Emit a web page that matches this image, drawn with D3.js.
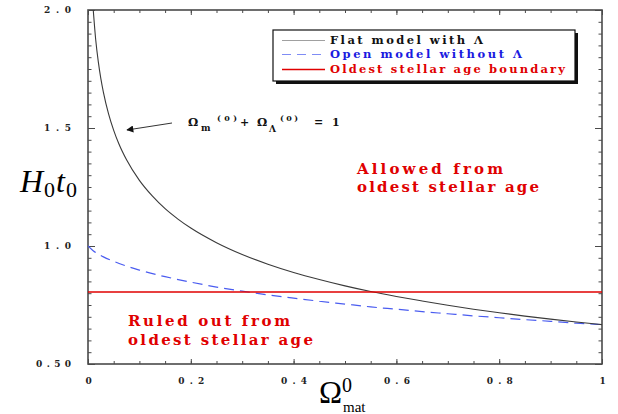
<!DOCTYPE html>
<html><head><meta charset="utf-8">
<script src="https://cdn.jsdelivr.net/npm/d3@7"></script>
<style>body{margin:0;background:#fff}svg{display:block}</style>
</head><body>
<svg id="c" width="618" height="414"></svg>
<script>
// ---- data ----
const flatOmega = [0.01,0.015,0.02,0.025,0.03,0.04,0.05,0.06,0.075,0.1,0.125,0.15,0.175,0.2,0.25,0.3,0.35,0.4,0.45,0.5,0.55,0.6,0.65,0.7,0.75,0.8,0.85,0.9,0.95,1.0];
const flatH0t0  = [2.006,1.874,1.781,1.709,1.651,1.560,1.490,1.433,1.365,1.278,1.212,1.158,1.114,1.076,1.014,0.964,0.923,0.888,0.858,0.831,0.807,0.786,0.767,0.749,0.732,0.717,0.703,0.690,0.678,0.667];
const openOmega = [0,0.01,0.02,0.03,0.05,0.075,0.1,0.15,0.2,0.25,0.3,0.35,0.4,0.45,0.5,0.55,0.6,0.65,0.7,0.75,0.8,0.85,0.9,0.95,1.0];
const openH0t0  = [1.000,0.980,0.966,0.954,0.935,0.915,0.898,0.870,0.847,0.826,0.809,0.793,0.779,0.766,0.754,0.742,0.732,0.722,0.713,0.704,0.696,0.688,0.681,0.673,0.667];
const stellarBoundary = 0.805;
const xDomain = [0, 1];
const yDomain = [0.5, 2.0];
const xTicks = [0, 0.2, 0.4, 0.6, 0.8, 1];
const xTickLabels = ["0", "0.2", "0.4", "0.6", "0.8", "1"];
const yTicks = [0.5, 1.0, 1.5, 2.0];
const yTickLabels = ["0.50", "1.0", "1.5", "2.0"];
const minorStep = 0.05;
const legendLabels = ["Flat model with \u039B", "Open model without \u039B", "Oldest stellar age boundary"];

// ---- layout ----
const L = 88, R = 602, T = 10, B = 364;
const svg = d3.select("#c");
const x = d3.scaleLinear(xDomain, [L, R]);
const y = d3.scaleLinear(yDomain, [B, T]);
const serif = "'Liberation Serif','Times New Roman',serif";
const bold = "'DejaVu Serif','Liberation Serif',serif";
const frameCol = "#4a4a4a";

const xMinor = d3.range(0, 21).map(i => +(i * minorStep).toFixed(2));
const yMinor = d3.range(0, 31).map(i => +(0.5 + i * minorStep).toFixed(2));

svg.append("clipPath").attr("id", "clip").append("rect")
  .attr("x", L).attr("y", T).attr("width", R - L).attr("height", B - T);

function styleAxis(g) {
  g.select(".domain").remove();
  g.selectAll(".tick line").attr("stroke", frameCol).attr("stroke-width", 1);
}
svg.append("g").attr("transform", `translate(0,${B})`)
  .call(d3.axisBottom(x).tickValues(xMinor).tickSize(-3).tickFormat("")).call(styleAxis);
svg.append("g").attr("transform", `translate(0,${T})`)
  .call(d3.axisTop(x).tickValues(xMinor).tickSize(-3).tickFormat("")).call(styleAxis);
svg.append("g").attr("transform", `translate(${L},0)`)
  .call(d3.axisLeft(y).tickValues(yMinor).tickSize(-3.5).tickFormat("")).call(styleAxis);
svg.append("g").attr("transform", `translate(${R},0)`)
  .call(d3.axisRight(y).tickValues(yMinor).tickSize(-3.5).tickFormat("")).call(styleAxis);

const gx = svg.append("g").attr("transform", `translate(0,${B})`)
  .call(d3.axisBottom(x).tickValues(xTicks).tickSize(-5).tickPadding(14)
    .tickFormat((d, i) => xTickLabels[i])).call(styleAxis);
gx.selectAll(".tick text").attr("font-family", bold).attr("font-weight", "bold")
  .attr("font-size", 9).attr("fill", "#222")
  .each(function(d, i){ if (xTickLabels[i].length > 1) d3.select(this).attr("textLength", 26).attr("lengthAdjust", "spacing"); });
svg.append("g").attr("transform", `translate(0,${T})`)
  .call(d3.axisTop(x).tickValues(xTicks).tickSize(-5).tickFormat("")).call(styleAxis);

const gy = svg.append("g").attr("transform", `translate(${L},0)`)
  .call(d3.axisLeft(y).tickValues(yTicks).tickSize(-7).tickPadding(17)
    .tickFormat((d, i) => yTickLabels[i])).call(styleAxis);
gy.selectAll(".tick text").attr("font-family", bold).attr("font-weight", "bold")
  .attr("font-size", 9).attr("fill", "#222")
  .each(function(d, i){ d3.select(this).attr("textLength", yTickLabels[i].length > 3 ? 35 : 27).attr("lengthAdjust", "spacing"); });
svg.append("g").attr("transform", `translate(${R},0)`)
  .call(d3.axisRight(y).tickValues(yTicks).tickSize(-7).tickFormat("")).call(styleAxis);

svg.append("rect").attr("x", L).attr("y", T).attr("width", R - L).attr("height", B - T)
  .attr("fill", "none").attr("stroke", frameCol).attr("stroke-width", 1.6);

// curves
const plot = svg.append("g").attr("clip-path", "url(#clip)");
const line = d3.line().curve(d3.curveMonotoneX).x(d => x(d[0])).y(d => y(d[1]));
plot.append("path").datum(openOmega.map((o, i) => [o, openH0t0[i]]))
  .attr("d", line).attr("fill", "none").attr("stroke", "#4a5cf0").attr("stroke-width", 1.2)
  .attr("stroke-dasharray", "10,6");
plot.append("path").datum(flatOmega.map((o, i) => [o, flatH0t0[i]]))
  .attr("d", line).attr("fill", "none").attr("stroke", "#3a3a3a").attr("stroke-width", 1.1);
plot.append("line").attr("x1", x(xDomain[0])).attr("x2", x(xDomain[1]))
  .attr("y1", y(stellarBoundary)).attr("y2", y(stellarBoundary))
  .attr("stroke", "#e00000").attr("stroke-width", 1.6);

// legend
const lg = svg.append("g");
lg.append("rect").attr("x", 276).attr("y", 33).attr("width", 302).attr("height", 51).attr("fill", "#111");
lg.append("rect").attr("x", 273).attr("y", 30).attr("width", 302).attr("height", 51)
  .attr("fill", "#fff").attr("stroke", "#111").attr("stroke-width", 1.2);
const legStyles = [
  {stroke: "#a0a0a0", dash: null, color: "#111", w: 153},
  {stroke: "#7f8cf5", dash: "9,6", color: "#1a1ae0", w: 192},
  {stroke: "#e00000", dash: null, color: "#e00000", w: 235}
];
const rowY = [43.5, 57.5, 72.5];
legendLabels.forEach((t, i) => {
  const s = legStyles[i];
  lg.append("line").attr("x1", 282).attr("x2", 325).attr("y1", rowY[i] - 3).attr("y2", rowY[i] - 3)
    .attr("stroke", s.stroke).attr("stroke-width", i === 2 ? 1.6 : 1.2)
    .attr("stroke-dasharray", s.dash);
  lg.append("text").attr("x", 330).attr("y", rowY[i]).text(t)
    .attr("font-family", bold).attr("font-weight", "bold").attr("font-size", 11.5)
    .attr("fill", s.color).attr("textLength", s.w).attr("lengthAdjust", "spacing");
});

// annotation
const ann = svg.append("g").attr("font-family", bold).attr("font-weight", "bold").attr("fill", "#111");
svg.append("defs").append("marker").attr("id", "ah").attr("viewBox", "0 0 10 10")
  .attr("refX", 9).attr("refY", 5).attr("markerWidth", 12).attr("markerHeight", 7)
  .attr("markerUnits", "userSpaceOnUse").attr("orient", "auto")
  .append("path").attr("d", "M0,0L10,5L0,10z").attr("fill", "#111");
ann.append("line").attr("x1", 172).attr("y1", 123).attr("x2", 127).attr("y2", 130)
  .attr("stroke", "#333").attr("stroke-width", 1).attr("marker-end", "url(#ah)");
const annParts = [
  {t: "\u03A9", x: 188, y: 126, s: 11.5},
  {t: "m", x: 201, y: 131, s: 9},
  {t: "(0)", x: 217, y: 121, s: 8, w: 20},
  {t: "+", x: 240, y: 126, s: 11},
  {t: "\u03A9", x: 257, y: 126, s: 11.5},
  {t: "\u039B", x: 269, y: 132, s: 9},
  {t: "(0)", x: 280, y: 121, s: 8, w: 18},
  {t: "=", x: 314, y: 126, s: 11},
  {t: "1", x: 332, y: 126, s: 11}
];
annParts.forEach(p => {
  const tx = ann.append("text").attr("x", p.x).attr("y", p.y).attr("font-size", p.s).text(p.t);
  if (p.w) tx.attr("textLength", p.w).attr("lengthAdjust", "spacing");
});

// red region notes
const notes = [
  {t: "Allowed from", x: 357, y: 174, w: 146},
  {t: "oldest stellar age", x: 357, y: 192, w: 182},
  {t: "Ruled out from", x: 128, y: 326, w: 162},
  {t: "oldest stellar age", x: 128, y: 345, w: 185}
];
notes.forEach(n => {
  svg.append("text").attr("x", n.x).attr("y", n.y).text(n.t)
    .attr("font-family", bold).attr("font-weight", "bold").attr("font-size", 15)
    .attr("fill", "#e00000").attr("textLength", n.w).attr("lengthAdjust", "spacing");
});

// axis titles
const yt = svg.append("text").attr("x", 20).attr("y", 192)
  .attr("font-family", serif).attr("font-size", 32).attr("fill", "#000");
yt.append("tspan").attr("font-style", "italic").text("H");
yt.append("tspan").attr("font-size", 22).attr("dy", 5).attr("dx", 1).text("0");
yt.append("tspan").attr("font-style", "italic").attr("dy", -5).attr("dx", 1).text("t");
yt.append("tspan").attr("font-size", 22).attr("dy", 5).attr("dx", 1).text("0");

const xt = svg.append("g").attr("font-family", serif).attr("fill", "#000");
xt.append("text").attr("x", 319).attr("y", 403).attr("font-size", 31).text("\u03A9");
xt.append("text").attr("x", 342).attr("y", 392).attr("font-size", 20).text("0");
xt.append("text").attr("x", 343).attr("y", 412).attr("font-size", 15).text("mat");
</script>
</body></html>
